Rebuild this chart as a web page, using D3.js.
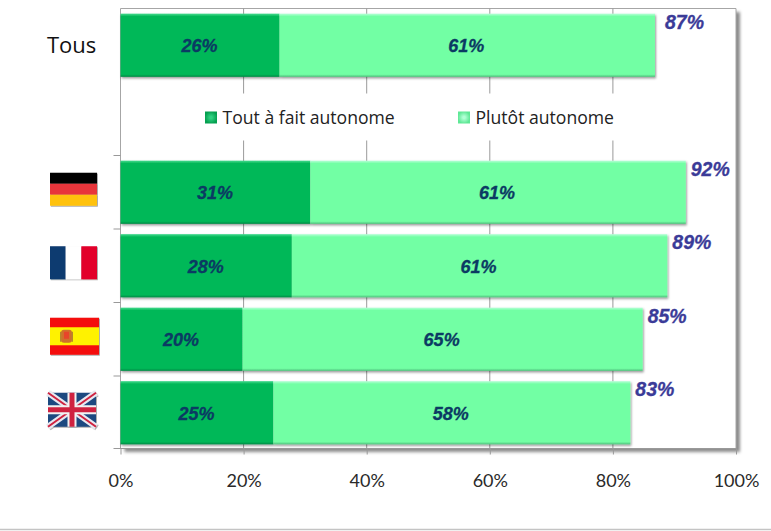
<!DOCTYPE html>
<html lang="fr">
<head>
<meta charset="utf-8">
<title>Autonomie par pays</title>
<script src="https://cdn.jsdelivr.net/npm/d3@7/dist/d3.min.js"></script>
<style>
html,body{margin:0;padding:0;background:#fff;}
svg{display:block;}
</style>
</head>
<body>
<div id="chart"></div>
<script>
// Rows of the chart; the empty row holds the legend.
const rows = ["Tous", "", "de", "fr", "es", "uk"];
const rowKeys = ["Tous", "de", "fr", "es", "uk"];
const toutAFait = [26, 31, 28, 20, 25];
const plutot = [61, 61, 61, 65, 58];
const totals = [87, 92, 89, 85, 83];
const tickValues = [0, 20, 40, 60, 80, 100];
const legendLabels = ["Tout à fait autonome", "Plutôt autonome"];

const width = 771, height = 531;
const svg = d3.select("#chart").append("svg").attr("width", width).attr("height", height);
const defs = svg.append("defs");

const x = d3.scaleLinear().domain([0, 100]).range([120.5, 736]);
const y = d3.scaleBand().domain(rows).range([8.5, 449.5]).paddingInner(0.14).paddingOuter(0.07);

// Soft drop shadows used by the frame, the bars and the flags
const shadow = (id, dx, dy, blur, op) => {
  const f = defs.append("filter").attr("id", id)
    .attr("x", "-5%").attr("y", "-10%").attr("width", "112%").attr("height", "125%");
  f.append("feDropShadow").attr("dx", dx).attr("dy", dy).attr("stdDeviation", blur)
    .attr("flood-color", "#000").attr("flood-opacity", op);
};
shadow("frameShadow", 4, 3.5, 1.6, 0.45);
shadow("barShadow", 1, 1.5, 1.2, 0.4);
shadow("flagShadow", 0.8, 0.8, 0.6, 0.4);

// Bevelled vertical fill of each bar
const bevel = (id, top, mid, bottom) => {
  const g = defs.append("linearGradient").attr("id", id).attr("x1", 0).attr("x2", 0).attr("y1", 0).attr("y2", 1);
  [[0, top], [0.045, mid], [0.96, mid], [1, bottom]].forEach(([o, c]) =>
    g.append("stop").attr("offset", o).attr("stop-color", c));
};
bevel("darkFill", "#45dc90", "#06b858", "#058a45");
bevel("lightFill", "#b8ffd8", "#72ffa4", "#4fbf7c");

const ly = 448.5;
// Plot frame
svg.append("rect")
  .attr("x", x(0)).attr("y", 8.5).attr("width", x(100) - x(0)).attr("height", ly - 8.5)
  .attr("fill", "#fff").attr("filter", "url(#frameShadow)");
svg.append("path")
  .attr("d", `M${x(0)},${ly}V8.5H${x(100)}V${ly}`)
  .attr("fill", "none").attr("stroke", "#a6a6a6").attr("stroke-width", 1);

// Vertical gridlines
svg.append("g").selectAll("line").data(tickValues.slice(1, -1)).join("line")
  .attr("x1", d => x(d)).attr("x2", d => x(d)).attr("y1", 8.5).attr("y2", ly)
  .attr("stroke", "#9a9a9a").attr("stroke-width", 1);

// Baseline, axis line and tick marks
const axis = svg.append("g").attr("transform", `translate(0,${ly})`)
  .call(d3.axisBottom(x).tickValues(tickValues).tickSize(6).tickPadding(20).tickFormat(d => d + "%"));
axis.select(".domain").attr("stroke", "#999").attr("d", `M${x(0) - 7},0H${x(100)}`);
axis.selectAll("line").attr("stroke", "#999");
axis.selectAll("text")
  .attr("font-family", "Lato, 'Open Sans', sans-serif").attr("font-size", 18).attr("fill", "#2a2a2a");

// Left category ticks
svg.append("g").selectAll("line").data(d3.range(2, 6)).join("line")
  .attr("x1", x(0) - 7).attr("x2", x(0))
  .attr("y1", d => y(rows[d]) - y.step() * y.paddingInner() / 2)
  .attr("y2", d => y(rows[d]) - y.step() * y.paddingInner() / 2)
  .attr("stroke", "#999");

// Stacked bars
const bars = svg.append("g").selectAll("g").data(rowKeys).join("g")
  .attr("filter", "url(#barShadow)");
bars.append("rect")
  .attr("x", x(0)).attr("y", d => y(d))
  .attr("width", (d, i) => x(toutAFait[i]) - x(0) - 1).attr("height", y.bandwidth())
  .attr("fill", "url(#darkFill)");
bars.append("rect")
  .attr("x", (d, i) => x(toutAFait[i]) - 1).attr("y", d => y(d))
  .attr("width", (d, i) => x(toutAFait[i] + plutot[i]) - x(toutAFait[i])).attr("height", y.bandwidth())
  .attr("fill", "url(#lightFill)");

// Value labels
const labels = svg.append("g")
  .attr("font-family", "'Liberation Sans', Arial, sans-serif")
  .attr("font-weight", "bold").attr("font-style", "italic").attr("font-size", 18);
const segLabel = (vals, pos) => labels.append("g").selectAll("text").data(rowKeys).join("text")
  .attr("x", (d, i) => pos(i)).attr("y", d => y(d) + y.bandwidth() / 2 + 7)
  .attr("text-anchor", "middle").attr("fill", "#0b3a63")
  .attr("stroke", "#0b3a63").attr("stroke-width", 0.3)
  .text((d, i) => vals[i] + "%");
segLabel(toutAFait, i => x(toutAFait[i] / 2) - 1);
segLabel(plutot, i => x(toutAFait[i] + plutot[i] / 2) - 2);
labels.append("g").selectAll("text").data(rowKeys).join("text")
  .attr("x", (d, i) => x(totals[i]) + (d === "Tous" ? 9 : 4)).attr("y", d => y(d) + 15)
  .attr("fill", "#3b3b98").attr("stroke", "#3b3b98").attr("stroke-width", 0.3).attr("font-size", 19.5)
  .text((d, i) => totals[i] + "%");

// Row titles and flags
svg.append("text").attr("x", 47).attr("y", y("Tous") + y.bandwidth() / 2 + 8)
  .attr("font-family", "'Open Sans', sans-serif").attr("font-size", 22).attr("fill", "#111").text("Tous");

const flag = (key, h, dx) => {
  const cy = y(key) + y.bandwidth() / 2 - 3;
  return svg.append("g").attr("transform", `translate(${50 + dx},${cy - h / 2})`)
    .attr("filter", "url(#flagShadow)");
};
const stripes = (g, w, h, cols, horizontal) => cols.forEach((c, i) => {
  const n = cols.length;
  g.append("rect")
    .attr("x", horizontal ? 0 : w * i / n).attr("y", horizontal ? h * i / n : 0)
    .attr("width", horizontal ? w : w / n).attr("height", horizontal ? h / n : h)
    .attr("fill", c);
});

const de = flag("de", 33, 0);
stripes(de, 47, 33, ["#000000", "#e8353b", "#ffc20e"], true);

const fr = flag("fr", 33, 0);
stripes(fr, 47, 33, ["#0b3a70", "#ffffff", "#e2002b"], false);

const es = flag("es", 37, 0);
es.append("rect").attr("width", 49).attr("height", 37).attr("fill", "#f40f0f");
es.append("rect").attr("y", 9.5).attr("width", 49).attr("height", 18).attr("fill", "#fff200");
es.append("rect").attr("x", 11).attr("y", 12).attr("width", 11).attr("height", 13).attr("rx", 3).attr("fill", "#d0702a");
es.append("rect").attr("x", 14).attr("y", 14).attr("width", 5).attr("height", 7).attr("fill", "#e8452a");
es.append("rect").attr("x", 10).attr("y", 14).attr("width", 1.5).attr("height", 10).attr("fill", "#b8862a");
es.append("rect").attr("x", 21.5).attr("y", 14).attr("width", 1.5).attr("height", 10).attr("fill", "#b8862a");

const uk = flag("uk", 34, -2);
uk.append("rect").attr("width", 48).attr("height", 34).attr("fill", "#1f4a80");
uk.append("path").attr("d", "M0,0L48,34M48,0L0,34").attr("stroke", "#e8e8f0").attr("stroke-width", 6);
uk.append("path").attr("d", "M0,0L48,34M48,0L0,34").attr("stroke", "#cf2340").attr("stroke-width", 2);
uk.append("path").attr("d", "M24,0V34M0,17H48").attr("stroke", "#f2f2f2").attr("stroke-width", 9);
uk.append("path").attr("d", "M24,0V34M0,17H48").attr("stroke", "#cf2340").attr("stroke-width", 5);

// Legend, on a white panel that masks the gridlines
svg.append("rect").attr("x", 195).attr("y", 93.5).attr("width", 430).attr("height", 47).attr("fill", "#fff");
const legendX = [205, 458];
const legendFill = ["url(#darkLegend)", "url(#lightLegend)"];
[["darkLegend", "#2fd080", "#05a050"], ["lightLegend", "#b0ffd4", "#5fe896"]].forEach(([id, a, b]) => {
  const g = defs.append("radialGradient").attr("id", id);
  g.append("stop").attr("offset", "0.2").attr("stop-color", a);
  g.append("stop").attr("offset", "1").attr("stop-color", b);
});
const legend = svg.append("g").selectAll("g").data(legendLabels).join("g")
  .attr("transform", (d, i) => `translate(${legendX[i]},111.5)`);
legend.append("rect").attr("width", 12).attr("height", 12).attr("fill", (d, i) => legendFill[i]);
legend.append("text").attr("x", 17.5).attr("y", 12)
  .attr("font-family", "'Open Sans', sans-serif").attr("font-size", 17.6).attr("fill", "#222")
  .text(d => d);

// Footer rule
svg.append("line").attr("x1", 0).attr("x2", width).attr("y1", 529.5).attr("y2", 529.5)
  .attr("stroke", "#c4c4c4").attr("stroke-width", 1.5);
</script>
</body>
</html>
